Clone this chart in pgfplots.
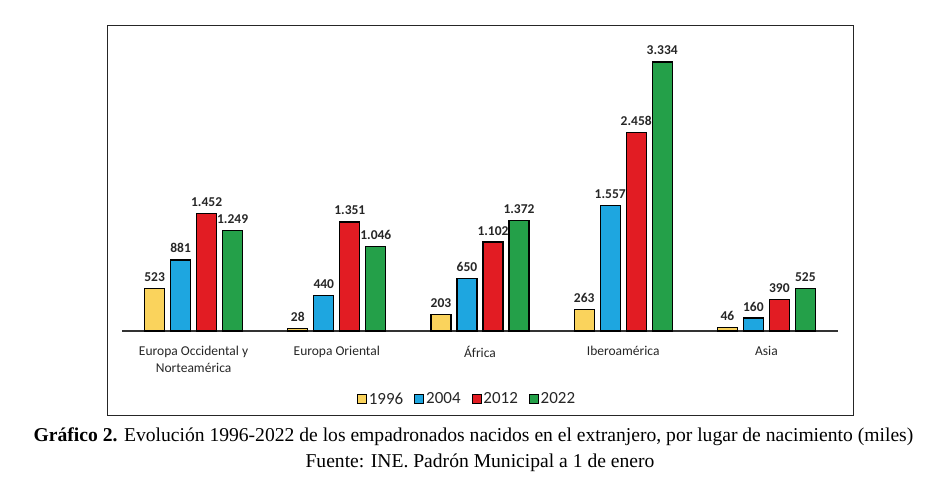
\documentclass[border=0pt]{standalone}
\usepackage{pgfplots}
\pgfplotsset{compat=1.18}
\usepackage{fontspec}
\setmainfont{Carlito}
\newfontfamily\capfont{Liberation Serif}
\definecolor{cA}{RGB}{250,211,92}
\definecolor{cB}{RGB}{30,166,224}
\definecolor{cC}{RGB}{226,28,35}
\definecolor{cD}{RGB}{36,160,73}
\begin{document}
\begin{tikzpicture}[x=1pt,y=1pt]
\path[use as bounding box] (0,0) rectangle (946,498);
\draw[line width=1pt, black!85] (107,82) rectangle (853,472);
\begin{axis}[
  at={(122pt,167pt)}, anchor=south west,
  scale only axis, width=716pt, height=300pt,
  xmin=-0.5, xmax=4.5, ymin=0, ymax=3718.2,
  ybar=6pt, bar width=20pt,
  axis x line*=bottom, axis y line=none,
  x axis line style={-, line width=1.5pt, black!80},
  xtick={0,1,2,3,4},
  xticklabels={{Europa Occidental y\\Norteamérica},{Europa Oriental},{África},{Iberoamérica},{Asia}},
  xticklabel style={align=center, font=\fontsize{13.5}{16.5}\selectfont, text=black!85, yshift=-12pt},
  major tick length=0pt,
  ytick=\empty,
  clip=false,
  nodes near coords, point meta=explicit symbolic,
  nodes near coords style={font=\bfseries\fontsize{13.5}{15}\selectfont, yshift=3pt, text=black!85},
  every axis plot/.append style={draw=black, line width=1.2pt},
  legend columns=4,
  legend style={at={(0.482,-0.227)}, anchor=center, draw=none, fill=none,
    font=\fontsize{17}{20}\selectfont, text=black!85,
    /tikz/every even column/.append style={column sep=9pt}},
  legend image code/.code={\draw[#1, line width=0.8pt] (0pt,-4.5pt) rectangle (9pt,4.5pt);},
]
\addplot[fill=cA] coordinates {(0,523)[523] (1,28)[28] (2,203)[203] (3,263)[263] (4,46)[46]};
\addplot[fill=cB] coordinates {(0,881)[881] (1,440)[440] (2,650)[650] (3,1557)[1.557] (4,160)[160]};
\addplot[fill=cC] coordinates {(0,1452)[1.452] (1,1351)[1.351] (2,1102)[1.102] (3,2458)[2.458] (4,390)[390]};
\addplot[fill=cD] coordinates {(0,1249)[1.249] (1,1046)[1.046] (2,1372)[1.372] (3,3334)[3.334] (4,525)[525]};
\legend{1996,2004,2012,2022}
\end{axis}
\node[font=\capfont\fontsize{19.6}{22}\selectfont] at (473.5,61) {\textbf{Gráfico 2.} Evolución 1996-2022 de los empadronados nacidos en el extranjero, por lugar de nacimiento (miles)};
\node[font=\capfont\fontsize{19.6}{22}\selectfont] at (480,35) {Fuente: INE. Padrón Municipal a 1 de enero};
\end{tikzpicture}
\end{document}
